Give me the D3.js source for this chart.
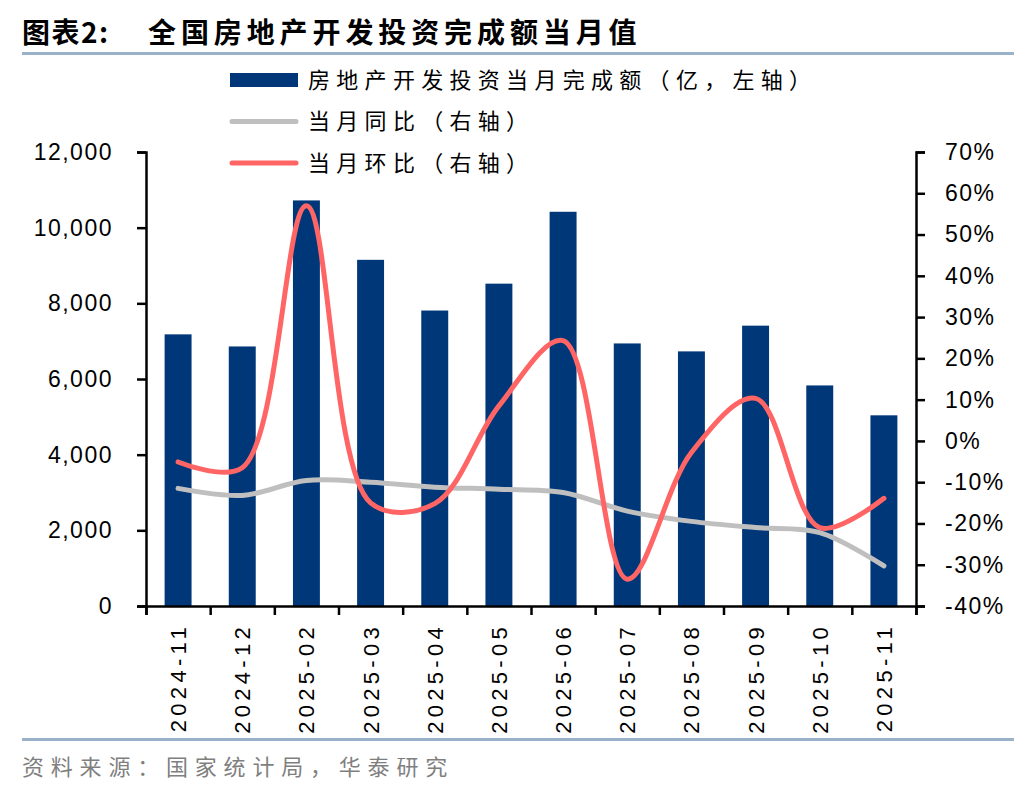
<!DOCTYPE html>
<html lang="zh">
<head>
<meta charset="UTF-8">
<title>全国房地产开发投资完成额当月值</title>
<script src="https://d3js.org/d3.v7.min.js"></script>
<style>
  body { margin: 0; background: #fff; }
  svg text { font-family: "Liberation Sans", Arial, sans-serif; }
  .cjk { font-family: "Noto Sans CJK SC", sans-serif; }
  .axis path, .axis line { stroke: #000; stroke-width: 2.5; }
  .axis text { font-size: 23px; letter-spacing: 1.5px; fill: #000; }
</style>
</head>
<body>
<svg id="chart" width="1036" height="792"></svg>
<script>
// data
const months = ["2024-11", "2024-12", "2025-02", "2025-03", "2025-04", "2025-05",
                "2025-06", "2025-07", "2025-08", "2025-09", "2025-10", "2025-11"];
const investment = [7180, 6860, 10720, 9150, 7810, 8520, 10420, 6940, 6730, 7410, 5830, 5040];
const yoy = [-11.5, -13.2, -9.6, -10.0, -11.2, -11.7, -12.5, -17.0, -19.5, -21.0, -22.2, -30.3];
const mom = [-5.1, -6.5, 57.0, -15.0, -15.2, 8.5, 24.3, -33.5, -2.8, 10.3, -21.0, -13.9];
const leftTicks = [0, 2000, 4000, 6000, 8000, 10000, 12000];
const rightTicks = [-40, -30, -20, -10, 0, 10, 20, 30, 40, 50, 60, 70];

const svg = d3.select("#chart");
const plot = { left: 146, right: 916, top: 152, bottom: 606 };

// title
svg.append("text").attr("class", "cjk")
  .attr("x", 22).attr("y", 43)
  .attr("font-size", 28).attr("font-weight", 700).attr("letter-spacing", 1.5)
  .text("图表2:");
svg.append("text").attr("class", "cjk")
  .attr("x", 148).attr("y", 43)
  .attr("font-size", 28).attr("font-weight", 700).attr("letter-spacing", 4.9)
  .text("全国房地产开发投资完成额当月值");
svg.append("rect").attr("x", 22).attr("y", 52).attr("width", 992).attr("height", 3)
  .attr("fill", "#9bb1c9");

// scales
const x = d3.scaleBand().domain(months)
  .range([plot.left, plot.right]).paddingInner(0.58).paddingOuter(0.29);
const xTick = d3.scaleLinear().domain([0, months.length]).range([plot.left, plot.right]);
const yL = d3.scaleLinear().domain([0, 12000]).range([plot.bottom, plot.top]);
const yR = d3.scaleLinear().domain([-40, 70]).range([plot.bottom, plot.top]);

// bars
svg.append("g").selectAll("rect")
  .data(investment)
  .join("rect")
  .attr("x", (d, i) => x(months[i]))
  .attr("y", d => yL(d))
  .attr("width", x.bandwidth())
  .attr("height", d => yL(0) - yL(d))
  .attr("fill", "#003778");

// lines
const cx = i => x(months[i]) + x.bandwidth() / 2;
const line = d3.line()
  .x((d, i) => cx(i))
  .y(d => yR(d))
  .curve(d3.curveCatmullRom.alpha(0.5));

svg.append("path").datum(yoy)
  .attr("d", line)
  .attr("fill", "none").attr("stroke", "#bfbfbf")
  .attr("stroke-width", 5).attr("stroke-linecap", "round");

svg.append("path").datum(mom)
  .attr("d", line)
  .attr("fill", "none").attr("stroke", "#ff6565")
  .attr("stroke-width", 5).attr("stroke-linecap", "round");

// axes
svg.append("g").attr("class", "axis")
  .attr("transform", `translate(${plot.left},0)`)
  .call(d3.axisLeft(yL).tickValues(leftTicks).tickSize(9).tickPadding(24)
    .tickFormat(d3.format(",")));

svg.append("g").attr("class", "axis")
  .attr("transform", `translate(${plot.right},0)`)
  .call(d3.axisRight(yR).tickValues(rightTicks).tickSize(9).tickPadding(20)
    .tickFormat(d => d + "%"));

svg.append("g").attr("class", "axis")
  .attr("transform", `translate(0,${plot.bottom})`)
  .call(d3.axisBottom(xTick).ticks(months.length).tickSize(9).tickFormat(""));

svg.append("g").attr("class", "axis")
  .attr("transform", `translate(0,${plot.bottom})`)
  .call(d3.axisBottom(x).tickSize(0).tickPadding(0))
  .call(g => g.select(".domain").remove())
  .selectAll("text")
  .style("font-size", "22px").style("letter-spacing", "4.3px")
  .attr("transform", "rotate(-90)")
  .attr("text-anchor", "end")
  .attr("x", -17).attr("y", 0).attr("dy", "0.36em");

// legend
const legend = [
  { label: "房地产开发投资当月完成额（亿，左轴）", type: "bar", color: "#003778" },
  { label: "当月同比（右轴）", type: "line", color: "#bfbfbf" },
  { label: "当月环比（右轴）", type: "line", color: "#ff6565" }
];
const lg = svg.append("g").selectAll("g").data(legend).join("g")
  .attr("transform", (d, i) => `translate(230,${80 + i * 41.5})`);
lg.filter(d => d.type === "bar").append("rect")
  .attr("x", 0).attr("y", -7).attr("width", 68).attr("height", 14)
  .attr("fill", d => d.color);
lg.filter(d => d.type === "line").append("line")
  .attr("x1", 2).attr("x2", 66).attr("y1", 0).attr("y2", 0)
  .attr("stroke", d => d.color).attr("stroke-width", 5).attr("stroke-linecap", "round");
lg.append("text").attr("class", "cjk")
  .attr("x", 78).attr("y", 0).attr("dy", "0.36em")
  .attr("font-size", 22).attr("letter-spacing", 6.3)
  .text(d => d.label);

// footer
svg.append("rect").attr("x", 22).attr("y", 738).attr("width", 992).attr("height", 3)
  .attr("fill", "#9bb1c9");
svg.append("text").attr("class", "cjk")
  .attr("x", 22).attr("y", 775)
  .attr("font-size", 22).attr("letter-spacing", 6.8).attr("fill", "#7f7f7f")
  .text("资料来源：国家统计局，华泰研究");
</script>
</body>
</html>
